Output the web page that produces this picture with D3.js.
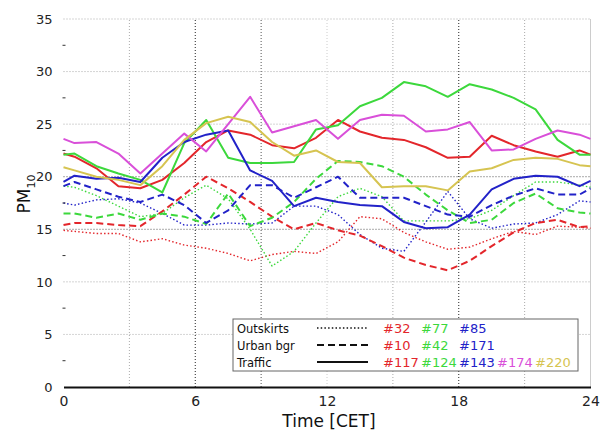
<!DOCTYPE html>
<html><head><meta charset="utf-8">
<script src="https://cdn.jsdelivr.net/npm/d3@7"></script>
<style>body{margin:0;background:#fff}svg{display:block}</style>
</head><body>
<svg id="c" width="600" height="431"></svg>
<script>
// time of each point (hours, CET)
const hours = [0, 0.5, 1.5, 2.5, 3.5, 4.5, 5.5, 6.5, 7.5, 8.5, 9.5, 10.5, 11.5, 12.5, 13.5, 14.5, 15.5, 16.5, 17.5, 18.5, 19.5, 20.5, 21.5, 22.5, 23.5, 24];
// Outskirts (dotted)
const s32  = [14.9,14.8,14.6,14.6,13.8,14.1,13.5,13.2,12.7,12.0,12.6,12.9,12.7,13.8,16.2,16.0,14.7,13.8,13.1,13.3,14.1,14.8,14.5,15.3,15.2,15.1];
const s77  = [19.1,19.0,18.2,17.2,16.2,16.5,18.0,19.2,17.9,15.0,11.5,12.9,15.6,18.1,18.9,18.1,15.8,15.8,15.8,16.0,16.8,18.2,19.5,19.5,19.2,19.0];
const s85  = [17.5,17.3,17.8,17.9,17.5,16.5,15.4,15.4,15.6,15.5,15.6,17.2,17.2,16.4,14.5,13.2,12.9,15.7,18.6,16.0,15.1,15.5,15.6,16.4,17.7,17.6];
// Urban background (dashed)
const s10  = [15.4,15.6,15.6,15.4,15.3,16.7,18.3,20.0,18.9,17.6,16.2,15.0,15.6,14.9,14.4,13.4,12.3,11.6,11.1,12.0,13.4,14.7,15.6,15.9,15.2,15.3];
const s42  = [16.5,16.5,16.1,16.5,15.9,16.5,16.2,15.5,18.4,15.3,16.1,17.6,19.8,21.5,21.4,21.0,20.0,18.3,16.8,15.6,15.9,17.5,18.4,17.0,16.6,16.5];
const s171 = [19.1,19.5,18.8,18.1,17.6,18.3,17.3,15.6,16.8,19.2,19.2,18.0,19.0,20.0,18.0,18.0,18.0,17.2,16.4,16.2,17.3,18.2,18.9,18.3,18.3,18.9];
// Traffic (solid)
const s117 = [22.2,21.9,20.8,19.1,18.9,19.7,21.3,23.3,24.4,24.0,23.0,22.7,23.7,25.4,24.3,23.7,23.5,22.8,21.8,21.9,23.9,23.0,22.4,21.9,22.5,22.1];
const s124 = [22.1,22.2,21.0,20.3,19.7,18.5,23.2,25.4,21.8,21.3,21.3,21.4,24.5,24.9,26.7,27.5,29.0,28.6,27.6,28.8,28.3,27.5,26.4,23.5,22.1,22.1];
const s143 = [19.5,20.1,19.8,19.9,19.5,21.8,23.3,24.0,24.4,20.6,19.6,17.2,18.0,17.6,17.3,17.2,15.7,15.1,15.2,16.4,18.8,19.8,20.1,20.0,19.1,19.6];
const s174 = [23.6,23.2,23.3,22.2,20.3,22.2,24.1,22.4,25.0,27.6,24.2,24.8,25.4,23.6,25.4,25.9,25.8,24.3,24.5,25.2,22.5,22.6,23.6,24.4,24.0,23.6];
const s220 = [20.9,20.6,20.0,19.7,19.2,21.0,23.5,25.1,25.7,25.2,23.3,22.0,22.5,21.4,21.3,19.0,19.1,19.1,18.7,20.5,20.8,21.6,21.8,21.7,21.1,21.0];

const xTicks = [0, 6, 12, 18, 24];
const yTicks = [0, 5, 10, 15, 20, 25, 30, 35];
const yMinor = [2.5, 7.5, 12.5, 17.5, 22.5, 27.5, 32.5];
const xGrid = [3, 6, 9, 12, 15, 18, 21];
const groups = ["Outskirts", "Urban bgr", "Traffic"];

const RED="#e3262b", GREEN="#3cd83c", BLUE="#2222c8", MAG="#d94fd9", YEL="#d6c451";
const series = [
  {id:"#32", g:0, c:RED, v:s32},{id:"#77", g:0, c:GREEN, v:s77},{id:"#85", g:0, c:BLUE, v:s85},
  {id:"#10", g:1, c:RED, v:s10},{id:"#42", g:1, c:GREEN, v:s42},{id:"#171", g:1, c:BLUE, v:s171},
  {id:"#117", g:2, c:RED, v:s117},{id:"#124", g:2, c:GREEN, v:s124},{id:"#143", g:2, c:BLUE, v:s143},
  {id:"#174", g:2, c:MAG, v:s174},{id:"#220", g:2, c:YEL, v:s220}
];
const styles = [
  {dash:"1.5,2.2", w:1.4},
  {dash:"7,4", w:2},
  {dash:null, w:2}
];

const svg = d3.select("#c");
const font = "'DejaVu Sans', sans-serif";
const x = d3.scaleLinear().domain([0,24]).range([63.5,590.5]);
const y = d3.scaleLinear().domain([0,35]).range([387,19]);

// grid
const gg = svg.append("g");
gg.selectAll("line.h").data(yTicks.filter(d=>d>0)).enter().append("line")
  .attr("x1",x(0)).attr("x2",x(24)).attr("y1",d=>y(d)).attr("y2",d=>y(d))
  .attr("stroke",d=>(d===15||d===20)?"#555":"#aaa").attr("stroke-width",1).attr("stroke-dasharray","1,2");
gg.selectAll("line.v").data(xGrid).enter().append("line")
  .attr("x1",d=>x(d)).attr("x2",d=>x(d)).attr("y1",y(0)).attr("y2",y(35))
  .attr("stroke",d=>(d===6||d===18)?"#222":(d===9?"#555":(d===12?"#ccc":"#aaa"))).attr("stroke-width",1).attr("stroke-dasharray","1,2");
// right frame
svg.append("line").attr("x1",x(24)).attr("x2",x(24)).attr("y1",y(0)).attr("y2",y(35)).attr("stroke","#ccc");

// lines
const line = d3.line().x((d,i)=>x(hours[i])).y(d=>y(d));
svg.append("g").selectAll("path").data(series).enter().append("path")
  .attr("d",d=>line(d.v)).attr("fill","none").attr("stroke",d=>d.c)
  .attr("stroke-width",d=>styles[d.g].w).attr("stroke-dasharray",d=>styles[d.g].dash)
  .attr("stroke-linejoin","round");

// axes
const xa = svg.append("g").attr("transform",`translate(0,${y(0)})`)
  .call(d3.axisBottom(x).tickValues(xTicks).tickSize(0).tickPadding(9));
xa.select(".domain").attr("stroke","#111").attr("stroke-width",2);
xa.selectAll("text").attr("font-family",font).attr("font-size",14).attr("fill","#222");
const ya = svg.append("g").attr("transform",`translate(${x(0)},0)`)
  .call(d3.axisLeft(y).tickValues(yTicks).tickSize(0).tickPadding(11));
ya.select(".domain").remove();
ya.selectAll("text").attr("font-family",font).attr("font-size",13).attr("fill","#222");
svg.append("g").selectAll("line").data(yMinor).enter().append("line")
  .attr("x1",x(0)-1).attr("x2",x(0)+2).attr("y1",d=>y(d)).attr("y2",d=>y(d)).attr("stroke","#333");

// axis labels
svg.append("text").attr("x",329).attr("y",427).attr("text-anchor","middle")
  .attr("font-family",font).attr("font-size",17).attr("fill","#111").text("Time [CET]");
const yl = svg.append("text").attr("transform","translate(30,194) rotate(-90)").attr("text-anchor","middle")
  .attr("font-family",font).attr("font-size",17).attr("fill","#111");
yl.append("tspan").text("PM");
yl.append("tspan").attr("font-size",11).attr("dy",5).text("10");

// legend
const lg = svg.append("g");
lg.append("rect").attr("x",233).attr("y",319).attr("width",345).attr("height",52)
  .attr("fill","#fff").attr("stroke","#666").attr("stroke-width",1);
const rowY = [333, 350, 367];
groups.forEach((name,i)=>{
  lg.append("text").attr("x",237).attr("y",rowY[i]).attr("font-family",font).attr("font-size",11.5).attr("fill","#111").text(name);
  lg.append("line").attr("x1",317).attr("x2",368).attr("y1",rowY[i]-5).attr("y2",rowY[i]-5)
    .attr("stroke","#111").attr("stroke-width",styles[i].w).attr("stroke-dasharray",styles[i].dash);
});
const colX = [383, 421, 459, 497, 535];
groups.forEach((name,gi)=>{
  series.filter(s=>s.g===gi).forEach((s,j)=>{
    lg.append("text").attr("x",colX[j]).attr("y",rowY[gi]).attr("font-family",font).attr("font-size",13)
      .attr("fill",s.c).text(s.id);
  });
});
</script>
</body></html>
